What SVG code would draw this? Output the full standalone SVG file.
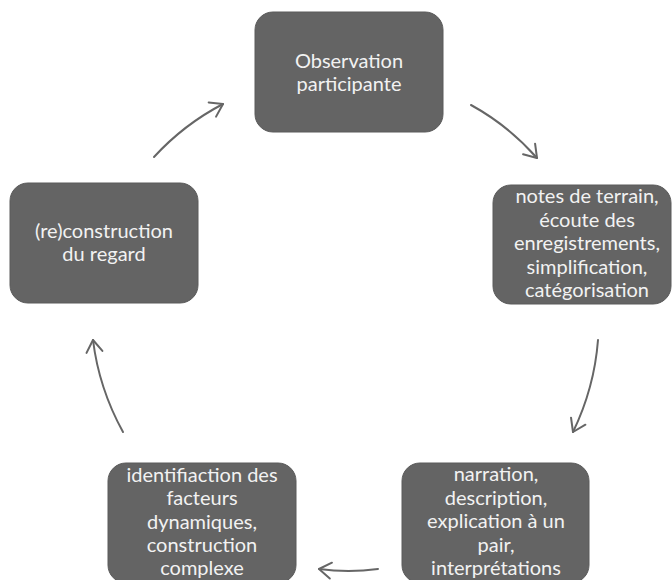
<svg xmlns="http://www.w3.org/2000/svg" width="672" height="580" viewBox="0 0 672 580">
<style>
.box{fill:#646464;stroke:#5a5a5a;stroke-width:1}
.t{font-family:Lato,"Open Sans","Liberation Sans",sans-serif;font-size:20px;fill:#f2f2f2;text-anchor:middle}
.c{fill:none;stroke:#666;stroke-width:2;stroke-linecap:round}
</style>
<defs>
<marker id="ah" viewBox="0 0 20 20" refX="15" refY="10" markerWidth="20" markerHeight="20" markerUnits="userSpaceOnUse" orient="auto">
<path d="M3,2 L15,10 L3,18" fill="none" stroke="#666" stroke-width="2" stroke-linecap="round" stroke-linejoin="round"/>
</marker>
</defs>
<rect width="672" height="580" fill="#fff"/>
<g id="connectors">
<path class="c" d="M471,105 Q508.5,125.6 537,158" marker-end="url(#ah)"/>
<path class="c" d="M598,340 Q594.3,388 573,432" marker-end="url(#ah)"/>
<path class="c" d="M378,569 Q348.5,573 319,569" marker-end="url(#ah)"/>
<path class="c" d="M123,432 Q98.9,388.2 93,340" marker-end="url(#ah)"/>
<path class="c" d="M154,157 Q183.9,124.4 223,104" marker-end="url(#ah)"/>
</g>
<g id="n1">
<rect class="box" x="255" y="12" width="188" height="120" rx="18"/>
<text class="t" x="349" y="68">Observation</text>
<text class="t" x="349" y="91">participante</text>
</g>
<g id="n2">
<rect class="box" x="493" y="185" width="178" height="119" rx="18"/>
<text class="t" x="587" y="203">notes de terrain,</text>
<text class="t" x="587" y="226.5">écoute des</text>
<text class="t" x="587" y="250">enregistrements,</text>
<text class="t" x="587" y="273.5">simplification,</text>
<text class="t" x="587" y="297">catégorisation</text>
</g>
<g id="n3">
<rect class="box" x="402" y="463" width="187" height="120" rx="18"/>
<text class="t" x="496" y="481">narration,</text>
<text class="t" x="496" y="504.5">description,</text>
<text class="t" x="496" y="528">explication à un</text>
<text class="t" x="496" y="551.5">pair,</text>
<text class="t" x="496" y="575">interprétations</text>
</g>
<g id="n4">
<rect class="box" x="108" y="463" width="188" height="120" rx="18"/>
<text class="t" x="202" y="481.5">identifiaction des</text>
<text class="t" x="202" y="505">facteurs</text>
<text class="t" x="202" y="528.5">dynamiques,</text>
<text class="t" x="202" y="552">construction</text>
<text class="t" x="202" y="575">complexe</text>
</g>
<g id="n5">
<rect class="box" x="10" y="183" width="188" height="120" rx="18"/>
<text class="t" x="104" y="238">(re)construction</text>
<text class="t" x="104" y="261">du regard</text>
</g>
</svg>
